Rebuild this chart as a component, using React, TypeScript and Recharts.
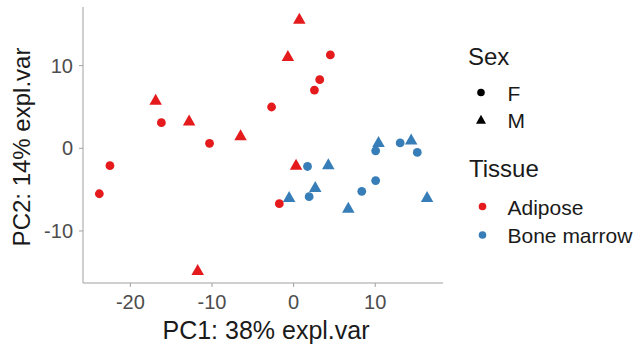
import { ScatterChart, Scatter, XAxis, YAxis, Label } from 'recharts'

interface Sample {
  pc1: number
  pc2: number
}

// PCA scores, split by tissue and sex
const adiposeF: Sample[] = [
  { pc1: -23.8, pc2: -5.5 },
  { pc1: -22.5, pc2: -2.1 },
  { pc1: -16.2, pc2: 3.1 },
  { pc1: -10.3, pc2: 0.6 },
  { pc1: -2.7, pc2: 5.0 },
  { pc1: 2.55, pc2: 7.05 },
  { pc1: 3.2, pc2: 8.3 },
  { pc1: 4.5, pc2: 11.3 },
  { pc1: -1.75, pc2: -6.7 },
]

const adiposeM: Sample[] = [
  { pc1: -16.9, pc2: 5.9 },
  { pc1: -12.8, pc2: 3.4 },
  { pc1: -6.5, pc2: 1.6 },
  { pc1: -0.7, pc2: 11.2 },
  { pc1: 0.7, pc2: 15.7 },
  { pc1: 0.3, pc2: -1.95 },
  { pc1: -11.75, pc2: -14.7 },
]

const boneMarrowF: Sample[] = [
  { pc1: 1.7, pc2: -2.2 },
  { pc1: 1.9, pc2: -5.85 },
  { pc1: 8.35, pc2: -5.2 },
  { pc1: 10.05, pc2: -3.9 },
  { pc1: 10.05, pc2: -0.3 },
  { pc1: 13.05, pc2: 0.65 },
  { pc1: 15.15, pc2: -0.5 },
]

const boneMarrowM: Sample[] = [
  { pc1: 4.25, pc2: -1.9 },
  { pc1: -0.55, pc2: -5.85 },
  { pc1: 2.65, pc2: -4.65 },
  { pc1: 6.7, pc2: -7.15 },
  { pc1: 10.4, pc2: 0.8 },
  { pc1: 14.4, pc2: 1.1 },
  { pc1: 16.35, pc2: -5.85 },
]

const X_TICKS = [-20, -10, 0, 10]
const Y_TICKS = [-10, 0, 10]

const RED = '#E41A1C'
const BLUE = '#377EB8'
const AXIS = '#a0a0a0'
const FONT = '"Liberation Sans", Arial, sans-serif'

function circleShape(color: string) {
  return (props: any) => <circle cx={props.cx} cy={props.cy} r={4.4} fill={color} />
}

function triPoints(cx: number, cy: number, w: number, h: number) {
  return `${cx},${cy - h / 2 - 0.5} ${cx - w / 2},${cy + h / 2} ${cx + w / 2},${cy + h / 2}`
}

function triangleShape(color: string) {
  return (props: any) => (
    <polygon points={triPoints(props.cx, props.cy, 12.5, 10.5)} fill={color} />
  )
}

function LegendBlock() {
  const title = { fontSize: 24, fill: '#1a1a1a', fontFamily: FONT }
  const item = { fontSize: 21, fill: '#1a1a1a', fontFamily: FONT }
  return (
    <svg
      width={635}
      height={349}
      style={{ position: 'absolute', left: 0, top: 0, pointerEvents: 'none' }}
    >
      <text x={468} y={64.5} {...title}>Sex</text>
      <circle cx={481} cy={92.5} r={3.8} fill="#000" />
      <text x={507.5} y={100.5} {...item}>F</text>
      <polygon points={triPoints(481, 119.5, 10, 8.5)} fill="#000" />
      <text x={507.5} y={127.5} {...item}>M</text>

      <text x={469} y={177} {...title}>Tissue</text>
      <circle cx={482.5} cy={206.5} r={3.8} fill={RED} />
      <text x={507.5} y={214.5} {...item}>Adipose</text>
      <circle cx={482.5} cy={235} r={3.8} fill={BLUE} />
      <text x={507.5} y={242.5} {...item}>Bone marrow</text>
    </svg>
  )
}

export default function App() {
  return (
    <div
      style={{
        position: 'absolute',
        left: 0,
        top: 0,
        width: 635,
        height: 349,
        background: '#fff',
        fontFamily: FONT,
      }}
    >
      <ScatterChart
        width={635}
        height={349}
        margin={{ top: 7, right: 192, bottom: 0, left: 0 }}
      >
        <XAxis
          type="number"
          dataKey="pc1"
          domain={[-25.8, 18.3]}
          ticks={X_TICKS}
          allowDataOverflow
          height={66}
          tickSize={4}
          tickMargin={8}
          stroke={AXIS}
          tick={{ fill: '#4D4D4D', fontSize: 20 }}
        >
          <Label
            content={({ viewBox }: any) => (
              <text
                x={viewBox.x + viewBox.width / 2 + 3}
                y={338.5}
                textAnchor="middle"
                fontSize={25}
                fill="#1a1a1a"
              >
                PC1: 38% expl.var
              </text>
            )}
          />
        </XAxis>
        <YAxis
          type="number"
          dataKey="pc2"
          domain={[-16.3, 17.1]}
          ticks={Y_TICKS}
          allowDataOverflow
          width={83}
          tickSize={4}
          tickMargin={6}
          stroke={AXIS}
          tick={{ fill: '#4D4D4D', fontSize: 20 }}
        >
          <Label
            content={({ viewBox }: any) => {
              const cy = viewBox.y + viewBox.height / 2 + 2
              return (
                <text
                  x={21}
                  y={cy}
                  dy="0.36em"
                  transform={`rotate(-90, 21, ${cy})`}
                  textAnchor="middle"
                  fontSize={24}
                  fill="#1a1a1a"
                >
                  PC2: 14% expl.var
                </text>
              )
            }}
          />
        </YAxis>
        <Scatter data={adiposeF} shape={circleShape(RED)} isAnimationActive={false} />
        <Scatter data={adiposeM} shape={triangleShape(RED)} isAnimationActive={false} />
        <Scatter data={boneMarrowF} shape={circleShape(BLUE)} isAnimationActive={false} />
        <Scatter data={boneMarrowM} shape={triangleShape(BLUE)} isAnimationActive={false} />
      </ScatterChart>
      <LegendBlock />
    </div>
  )
}
